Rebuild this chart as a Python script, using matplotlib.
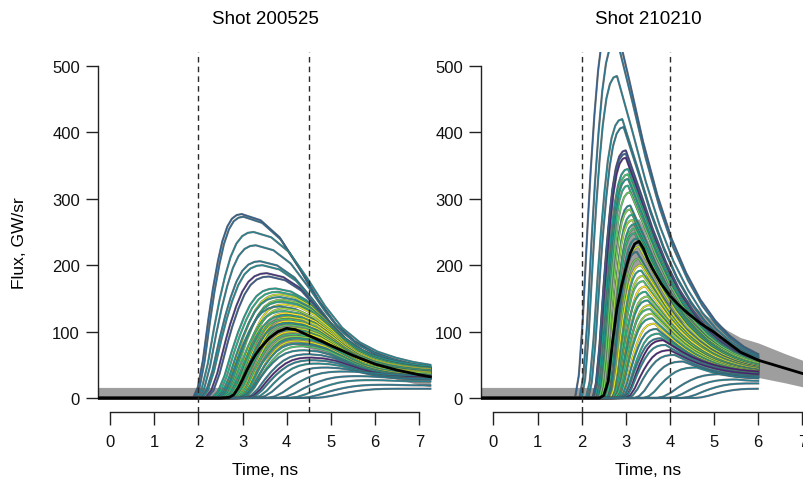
import numpy as np
import matplotlib
matplotlib.use("Agg")
import matplotlib.pyplot as plt
import matplotlib.patheffects as pe

plt.rcParams['font.family'] = ['Liberation Sans', 'DejaVu Sans']

# normalised pulse profiles: rise (onset -> peak) and fall (peak -> end of record)
profile_grid = [0.0, 0.1, 0.2, 0.3, 0.4, 0.5, 0.6, 0.7, 0.8, 0.9, 1.0]
rise_profile = [0.0, 0.06, 0.2, 0.4, 0.58, 0.73, 0.85, 0.93, 0.975, 0.995, 1.0]
fall_200525 = [1.0, 0.96, 0.85, 0.66, 0.45, 0.28, 0.17, 0.1, 0.055, 0.022, 0.0]
fall_210210 = [1.0, 0.82, 0.63, 0.47, 0.34, 0.24, 0.16, 0.1, 0.055, 0.022, 0.0]

# shot 200525: onset (ns), peak time (ns), peak flux, flux at record end, channel colour
s1_onset = [1.88, 1.92, 1.95, 2.00, 2.05, 2.08, 2.15, 2.20,
            2.30, 2.35, 2.45, 2.40, 2.55, 2.50, 2.65, 2.45, 2.70, 2.55, 2.75, 2.60, 2.80,
            2.65, 2.85, 2.70, 2.80, 2.90, 2.75, 2.90, 2.85, 2.95, 2.90, 3.00, 2.95, 3.00,
            2.95, 3.05, 3.10, 3.15, 3.25, 3.35, 3.55, 3.80, 4.05, 4.30, 4.60]
s1_peak_t = [2.98, 3.02, 3.25, 3.30, 3.40, 3.45, 3.55, 3.60,
             3.75, 3.80, 3.85, 3.85, 3.90, 3.90, 3.95, 3.85, 3.95, 3.95, 4.00, 4.00, 4.05,
             4.00, 4.05, 4.05, 4.10, 4.10, 4.10, 4.15, 4.15, 4.20, 4.25, 4.25, 4.30, 4.35,
             4.40, 4.50, 4.55, 4.60, 4.70, 4.90, 5.30, 5.60, 5.90, 6.20, 6.50]
s1_peak = [277, 273, 250, 230, 206, 200, 188, 183,
           165, 160, 156, 152, 148, 145, 141, 138, 135, 131, 128, 125, 122,
           119, 116, 113, 110, 106, 103, 100, 96, 93, 90, 86, 82, 78,
           72, 66, 61, 57, 52, 46, 40, 33, 27, 20, 14]
s1_end = [46, 44, 50, 47, 45, 44, 42, 41,
          46, 45, 44, 48, 43, 45, 42, 40, 44, 41, 43, 42, 40,
          41, 39, 40, 38, 39, 37, 38, 36, 37, 35, 34, 33, 32,
          32, 30, 31, 29, 29, 28, 34, 29, 25, 19, 14]
s1_channel = [0.30, 0.35, 0.45, 0.42, 0.40, 0.47, 0.15, 0.28,
              0.55, 0.62, 0.90, 0.50, 0.80, 0.60, 0.95, 0.45, 0.85, 0.65, 1.00, 0.58, 0.92,
              0.70, 0.98, 0.52, 0.75, 0.88, 0.63, 0.96, 0.68, 0.82, 0.55, 0.93, 0.48, 0.72,
              0.45, 0.40, 0.10, 0.42, 0.48, 0.40, 0.42, 0.40, 0.45, 0.40, 0.38]
s1_end_t = 7.25

# shot 210210
s2_onset = [1.85, 1.95, 2.00, 2.10, 2.15, 2.25, 2.25, 2.30,
            2.30, 2.35, 2.35, 2.40, 2.40, 2.45, 2.45, 2.50, 2.50, 2.55, 2.55, 2.55,
            2.60, 2.60, 2.60, 2.65, 2.65, 2.70, 2.70, 2.70, 2.75, 2.70, 2.75, 2.75,
            2.80, 2.75, 2.80, 2.80, 2.85, 2.85, 2.90, 2.90, 2.95, 2.95, 3.00, 3.05,
            3.20, 3.40, 3.70, 3.95, 4.25, 4.55]
s2_peak_t = [2.72, 2.80, 2.80, 2.92, 2.95, 3.00, 3.00, 3.00,
             3.05, 3.05, 3.05, 3.05, 3.10, 3.10, 3.10, 3.15, 3.15, 3.20, 3.20, 3.20,
             3.25, 3.30, 3.25, 3.30, 3.35, 3.35, 3.40, 3.40, 3.45, 3.45, 3.50, 3.50,
             3.55, 3.55, 3.60, 3.60, 3.65, 3.70, 3.75, 3.80, 3.85, 3.90, 4.00, 4.10,
             4.30, 4.60, 5.20, 5.50, 5.80, 6.00]
s2_peak = [580, 540, 485, 420, 408, 373, 368, 362,
           345, 337, 330, 320, 310, 290, 284, 276, 268, 262, 255, 248,
           240, 228, 220, 210, 200, 192, 184, 176, 168, 160, 153, 147,
           140, 134, 127, 120, 112, 104, 97, 90, 87, 80, 72, 65,
           55, 46, 36, 28, 22, 14]
s2_end = [66, 64, 62, 60, 60, 58, 57, 56,
          55, 54, 55, 53, 54, 52, 53, 50, 51, 50, 49, 50,
          48, 48, 47, 46, 46, 45, 44, 45, 44, 43, 42, 42,
          41, 40, 40, 39, 38, 38, 37, 36, 40, 35, 36, 33,
          32, 30, 30, 26, 22, 14]
s2_channel = [0.30, 0.38, 0.42, 0.45, 0.40, 0.18, 0.30, 0.12,
              0.55, 0.70, 0.50, 0.62, 0.75, 0.45, 0.80, 0.60, 0.85, 0.55, 0.72, 0.65,
              0.50, 0.90, 0.40, 0.78, 0.95, 0.58, 0.88, 0.70, 1.00, 0.62, 0.82, 0.52,
              0.92, 0.68, 0.85, 0.55, 0.98, 0.45, 0.60, 0.40, 0.08, 0.45, 0.10, 0.42,
              0.40, 0.45, 0.40, 0.42, 0.40, 0.38]
s2_end_t = 6.0

# ensemble mean and spread
s1_mean_t = [-0.27, 2.5, 2.7, 2.8, 2.9, 3.0, 3.1, 3.2, 3.3, 3.4, 3.6, 3.8, 4.0, 4.2,
             4.4, 4.6, 4.8, 5.0, 5.5, 6.0, 6.5, 7.0, 7.25]
s1_mean = [0, 0, 1, 5, 15, 28, 42, 55, 66, 75, 90, 100, 105, 103,
           97, 91, 85, 79, 64, 51, 42, 35, 32]
s1_sd = [16, 16, 18, 20, 22, 24, 25, 26, 26, 26, 26, 25, 24, 22,
         20, 18, 17, 16, 15, 14, 14, 15, 15]

s2_mean_t = [-0.28, 2.4, 2.5, 2.6, 2.7, 2.8, 2.9, 3.0, 3.1, 3.2, 3.3, 3.4, 3.5, 3.6,
             3.8, 4.0, 4.2, 4.4, 4.7, 5.0, 5.3, 5.6, 6.0, 6.3, 6.6, 7.0, 7.3]
s2_mean = [0, 0, 4, 25, 85, 135, 168, 195, 218, 232, 236, 225, 208, 195,
           172, 154, 140, 128, 112, 99, 84, 69, 57, 51, 45, 37, 33]
s2_sd = [16, 16, 18, 25, 35, 40, 40, 40, 38, 36, 34, 32, 30, 28,
         26, 24, 22, 20, 18, 17, 18, 22, 26, 24, 22, 20, 19]

windows = [(2.0, 4.5), (2.0, 4.0)]


def pulse(t, t0, tp, a, e, t_end, fall_profile):
    rise = a * np.interp((t - t0) / (tp - t0), profile_grid, rise_profile)
    fall = e + (a - e) * np.interp((t - tp) / (t_end - tp), profile_grid, fall_profile)
    return np.where(t < tp, rise, fall)


fig = plt.figure(figsize=(8.04, 4.81), dpi=100)
ax1 = fig.add_axes([0.1219, 0.1414, 0.4167, 0.7484])
ax2 = fig.add_axes([0.5983, 0.1414, 0.4167, 0.7484])

panels = [
    (ax1, "Shot 200525", s1_onset, s1_peak_t, s1_peak, s1_end, s1_channel, s1_end_t,
     fall_200525, s1_mean_t, s1_mean, s1_sd),
    (ax2, "Shot 210210", s2_onset, s2_peak_t, s2_peak, s2_end, s2_channel, s2_end_t,
     fall_210210, s2_mean_t, s2_mean, s2_sd),
]

# thin dark rim around each coloured trace
outline = [pe.Stroke(linewidth=1.55, foreground='#505050', alpha=0.75), pe.Normal()]

for i, (ax, title, onset, peak_t, peak, end, chan, t_end, fall, mt, mv, sd) in enumerate(panels):
    mt = np.array(mt)
    mv = np.array(mv)
    sd = np.array(sd)
    ax.fill_between(mt, np.clip(mv - sd, 0, None), mv + sd, color='#9e9e9e', lw=0, zorder=1)

    t = np.linspace(mt[0], t_end, 600)
    for t0, tp, a, e, c in zip(onset, peak_t, peak, end, chan):
        ax.plot(t, pulse(t, t0, tp, a, e, t_end, fall), color=plt.cm.viridis(c),
                lw=0.95, zorder=2, path_effects=outline)

    ax.plot(mt, mv, color='black', lw=2.0, zorder=4)
    for xv in windows[i]:
        ax.axvline(xv, color='#2a2a2a', lw=1.0, dashes=(4, 3), zorder=5)

    ax.set_xlim(mt[0], 7.31)
    ax.set_ylim(-21, 521)
    ax.spines['top'].set_visible(False)
    ax.spines['right'].set_visible(False)
    ax.spines['left'].set_bounds(0, 500)
    ax.spines['bottom'].set_bounds(0, 7)
    for s in ('left', 'bottom'):
        ax.spines[s].set_color('#222222')
        ax.spines[s].set_linewidth(1.0)
    ax.set_xticks(range(8))
    ax.set_yticks(range(0, 501, 100))
    ax.tick_params(axis='both', direction='out', length=9, width=1.0, color='#222222',
                   labelsize=12, labelcolor='#111111')
    ax.tick_params(axis='x', pad=7)
    ax.tick_params(axis='y', pad=4)
    ax.patch.set_visible(False)

    cx = (ax.get_position().x0 + ax.get_position().x1) / 2
    fig.text(cx, 1 - 19 / 481, title, ha='center', va='center', fontsize=13.5)
    fig.text(cx, 1 - 471 / 481, "Time, ns", ha='center', va='center', fontsize=12.5)

fig.text(20 / 804, 1 - 243 / 481, "Flux, GW/sr", rotation=90, ha='center', va='center',
         fontsize=12.5)

fig.savefig("out.png", dpi=100)
